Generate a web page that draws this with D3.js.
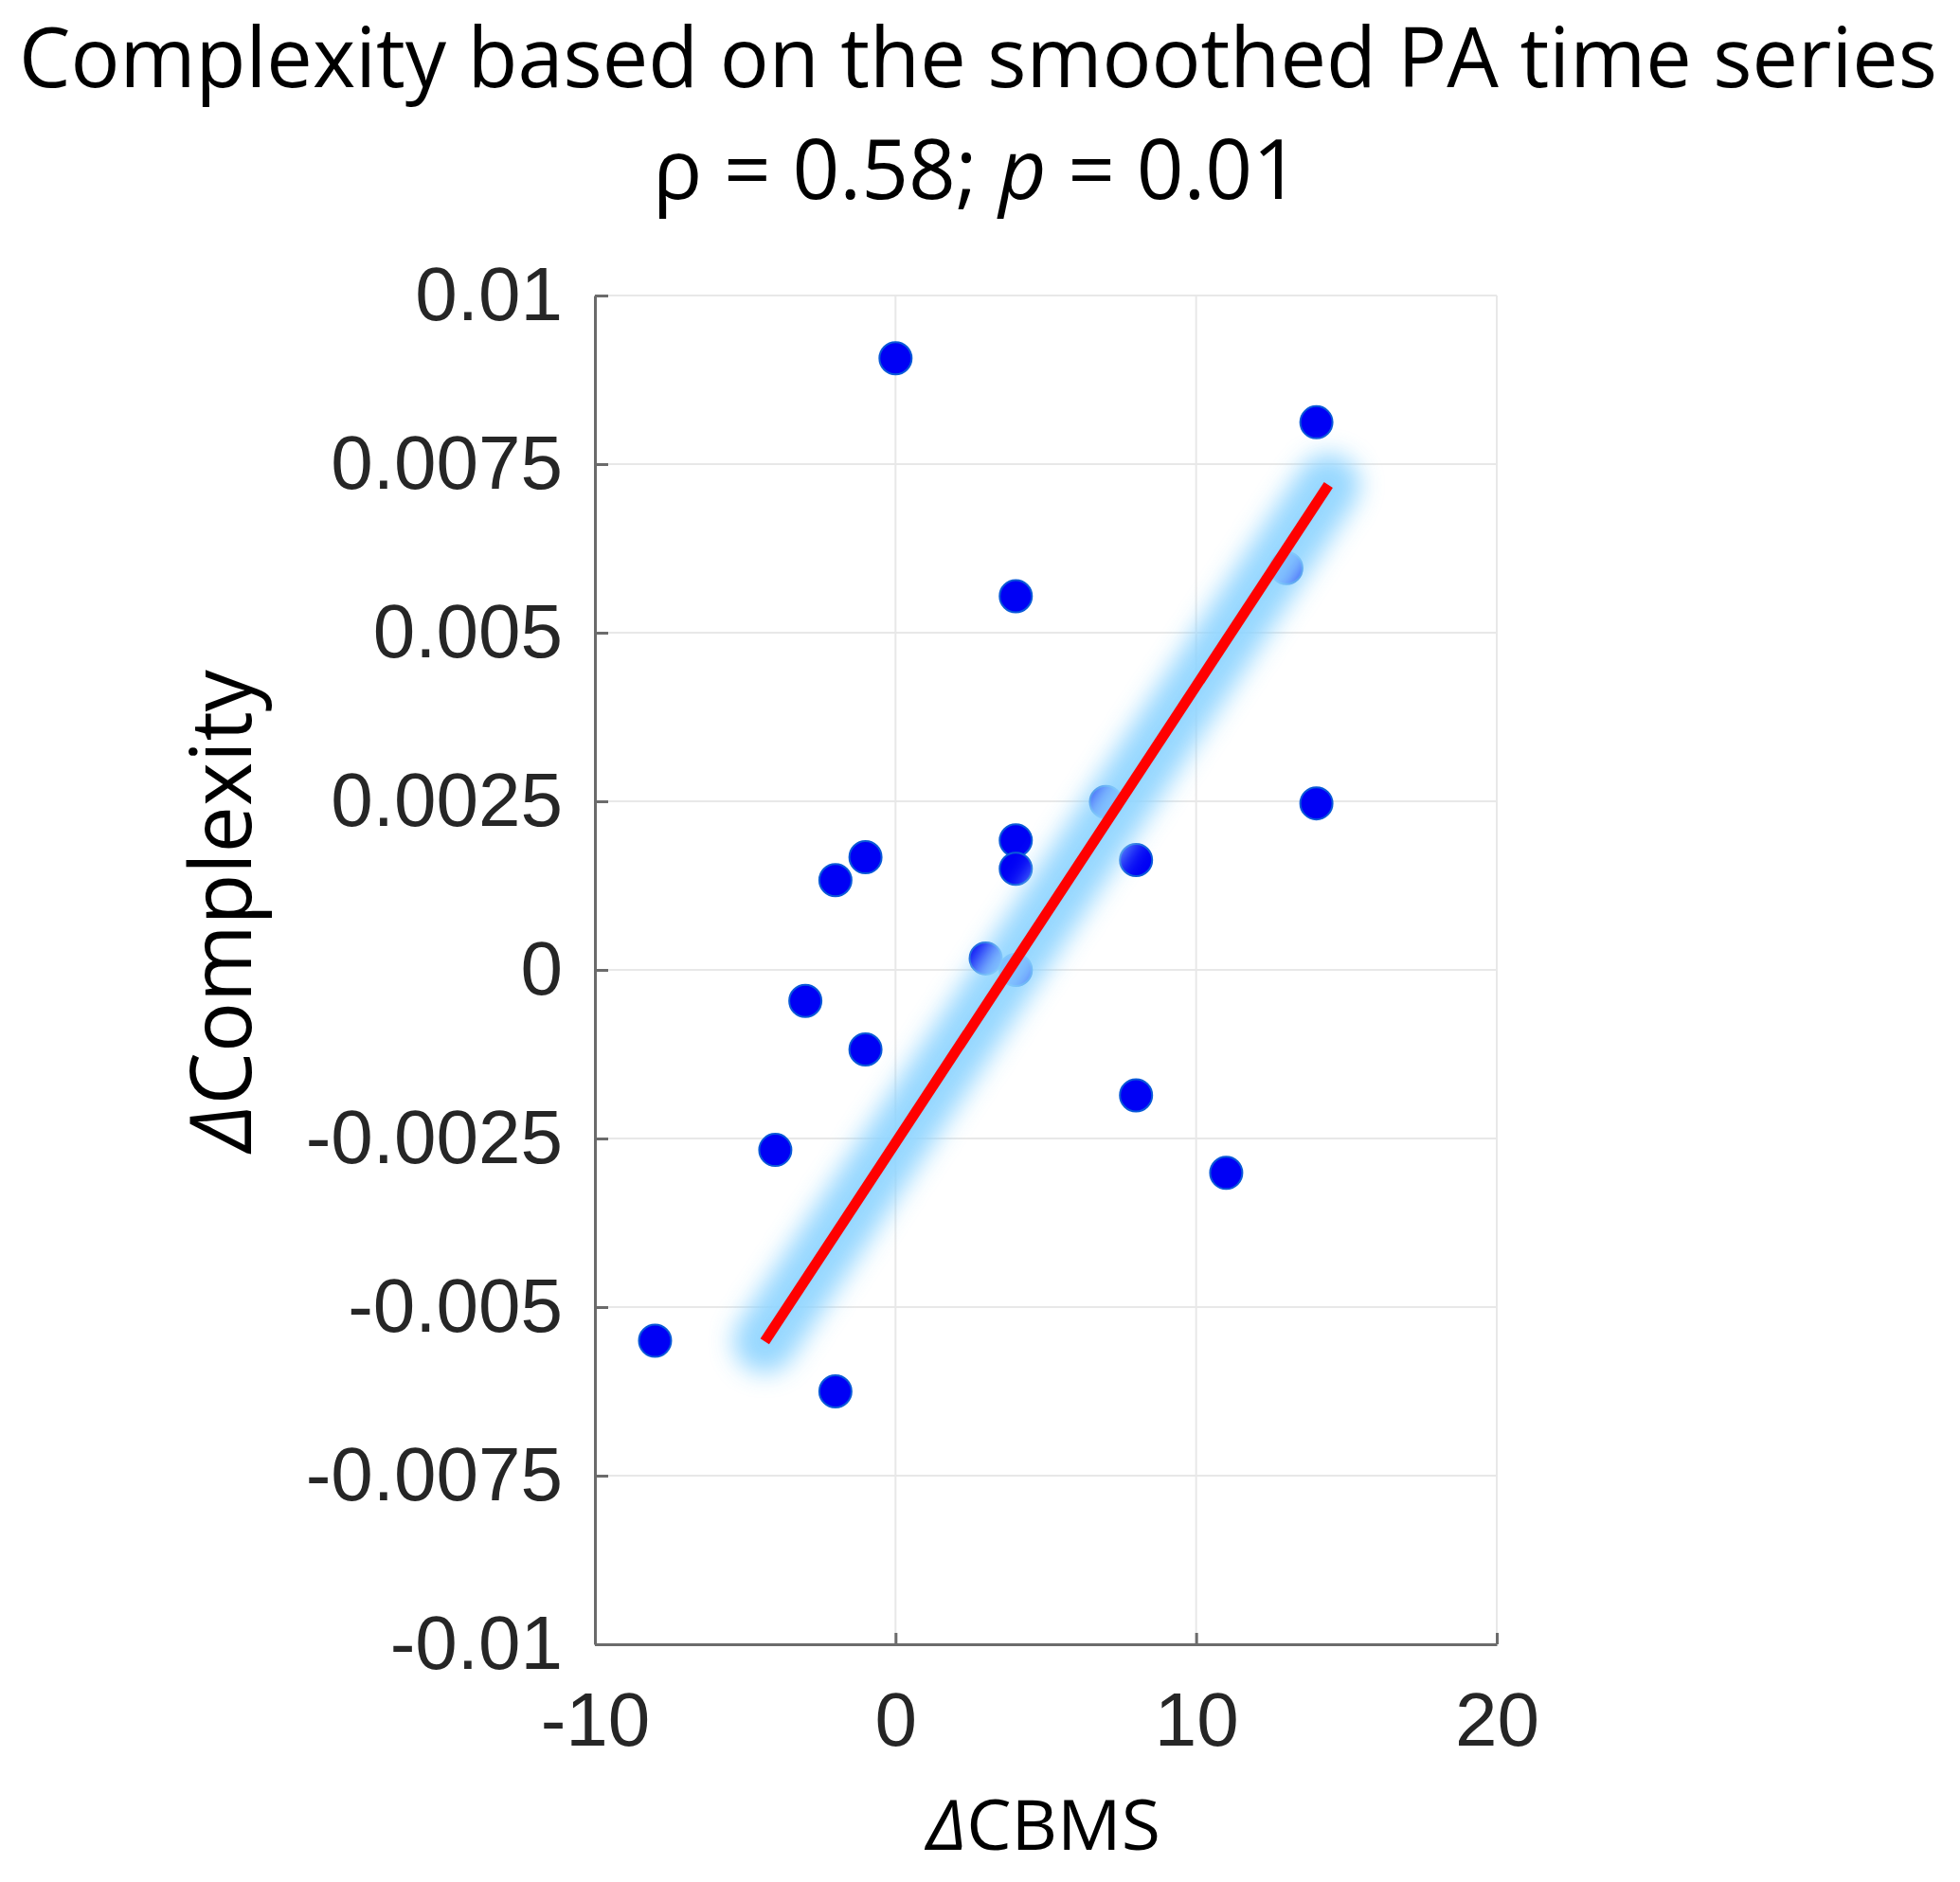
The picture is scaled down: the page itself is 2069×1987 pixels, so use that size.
<!DOCTYPE html>
<meta charset="utf-8">
<head>
<style>
body { margin: 0; background: #fff; }
.grid line { stroke: #e8e8e8; stroke-width: 2; }
.axis path, .axis line { stroke: #6b6b6b; stroke-width: 3; }
.axis text { fill: #262626; font-family: "Liberation Sans", Arial, sans-serif; font-size: 80px; }
.title { font-family: "Open Sans", sans-serif; fill: #000; }
</style>
</head>
<body>
<svg width="2069" height="1987"></svg>
<script src="https://d3js.org/d3.v7.min.js"></script>
<script>

// delta CBMS (x) and delta complexity (y)
var cbms       = [0, 14, 13, 4, 7, 14, 4, 4, 8, -1, -2, 3, 4, -3, -1, 8, -4, 11, -8, -2];
var complexity = [0.00907, 0.00812, 0.00596, 0.00554, 0.00249, 0.00247, 0.00192, 0.0015, 0.00163, 0.00167,
                  0.00133, 0.00017, 0.0, -0.00046, -0.00118, -0.00186, -0.00267, -0.00301, -0.0055, -0.00625];

// fitted line end points
var fitX = [-4.35, 14.4];
var fitY = [-0.00551, 0.00719];

var xTicks = [-10, 0, 10, 20];
var xTickLabels = ["-10", "0", "10", "20"];
var yTicks = [0.01, 0.0075, 0.005, 0.0025, 0, -0.0025, -0.005, -0.0075, -0.01];
var yTickLabels = ["0.01", "0.0075", "0.005", "0.0025", "0", "-0.0025", "-0.005", "-0.0075", "-0.01"];

var svg = d3.select("svg");

var plotLeft = 628, plotRight = 1580, plotTop = 312, plotBottom = 1736;

var x = d3.scaleLinear().domain([-10, 20]).range([plotLeft, plotRight]);
var y = d3.scaleLinear().domain([-0.01, 0.01]).range([plotBottom, plotTop]);

// grid
var grid = svg.append("g").attr("class", "grid");
grid.selectAll(".gy")
    .data(yTicks.filter(function(d) { return d !== -0.01; }))
  .enter().append("line")
    .attr("x1", plotLeft).attr("x2", plotRight)
    .attr("y1", function(d) { return y(d); })
    .attr("y2", function(d) { return y(d); });
grid.selectAll(".gx")
    .data(xTicks.filter(function(d) { return d !== -10; }))
  .enter().append("line")
    .attr("y1", plotTop).attr("y2", plotBottom)
    .attr("x1", function(d) { return x(d); })
    .attr("x2", function(d) { return x(d); });

// axes
svg.append("g")
    .attr("class", "axis")
    .attr("transform", "translate(" + plotLeft + ",0)")
    .call(d3.axisLeft(y)
        .tickValues(yTicks)
        .tickFormat(function(d, i) { return yTickLabels[i]; })
        .tickSizeInner(-14)
        .tickSizeOuter(0)
        .tickPadding(34))
    .attr("font-family", null).attr("font-size", null);

svg.append("g")
    .attr("class", "axis")
    .attr("transform", "translate(0," + plotBottom + ")")
    .call(d3.axisBottom(x)
        .tickValues(xTicks)
        .tickFormat(function(d, i) { return xTickLabels[i]; })
        .tickSizeInner(-12)
        .tickSizeOuter(0)
        .tickPadding(50))
    .attr("font-family", null).attr("font-size", null)
    .selectAll("text").attr("dy", "0.71em");

// points
svg.append("g").selectAll("circle")
    .data(cbms)
  .enter().append("circle")
    .attr("cx", function(d) { return x(d); })
    .attr("cy", function(d, i) { return y(complexity[i]); })
    .attr("r", 17)
    .attr("fill", "#0000f5")
    .attr("stroke", "#0a5ad8")
    .attr("stroke-width", 2);

// glow behind the fit line
var defs = svg.append("defs");
defs.append("filter")
    .attr("id", "glow")
    .attr("x", "-50%").attr("y", "-50%").attr("width", "200%").attr("height", "200%")
  .append("feGaussianBlur")
    .attr("stdDeviation", 13);

var fit = d3.line()
    .x(function(d, i) { return x(fitX[i]); })
    .y(function(d, i) { return y(fitY[i]); });

svg.append("path")
    .attr("d", fit(fitX))
    .attr("stroke", "#8ed4ff")
    .attr("stroke-width", 66)
    .attr("stroke-linecap", "round")
    .attr("opacity", 0.92)
    .attr("fill", "none")
    .attr("filter", "url(#glow)");

svg.append("path")
    .attr("d", fit(fitX))
    .attr("stroke", "#ff0000")
    .attr("stroke-width", 11)
    .attr("fill", "none");

// titles
svg.append("text")
    .attr("class", "title")
    .attr("x", 20).attr("y", 92)
    .attr("font-size", 88)
    .attr("textLength", 2025)
    .attr("lengthAdjust", "spacingAndGlyphs")
    .text("Complexity based on the smoothed PA time series");

var t2 = svg.append("text")
    .attr("class", "title")
    .attr("x", 689).attr("y", 210)
    .attr("font-size", 88)
    .attr("textLength", 683)
    .attr("lengthAdjust", "spacingAndGlyphs");
t2.append("tspan").text("ρ = 0.58; ");
t2.append("tspan").attr("font-style", "italic").text("p");
t2.append("tspan").text(" = 0.01");

// axis labels
var yl = svg.append("text")
    .attr("class", "title")
    .attr("transform", "translate(265,1216) rotate(-90)")
    .attr("font-size", 90)
    .attr("textLength", 509)
    .attr("lengthAdjust", "spacingAndGlyphs");
yl.append("tspan").attr("font-style", "italic").text("Δ");
yl.append("tspan").text("Complexity");

var xl = svg.append("text")
    .attr("class", "title")
    .attr("x", 978).attr("y", 1953)
    .attr("font-size", 74)
    .attr("textLength", 247)
    .attr("lengthAdjust", "spacingAndGlyphs");
xl.append("tspan").attr("font-style", "italic").text("Δ");
xl.append("tspan").text("CBMS");

</script>
</body>
</html>
